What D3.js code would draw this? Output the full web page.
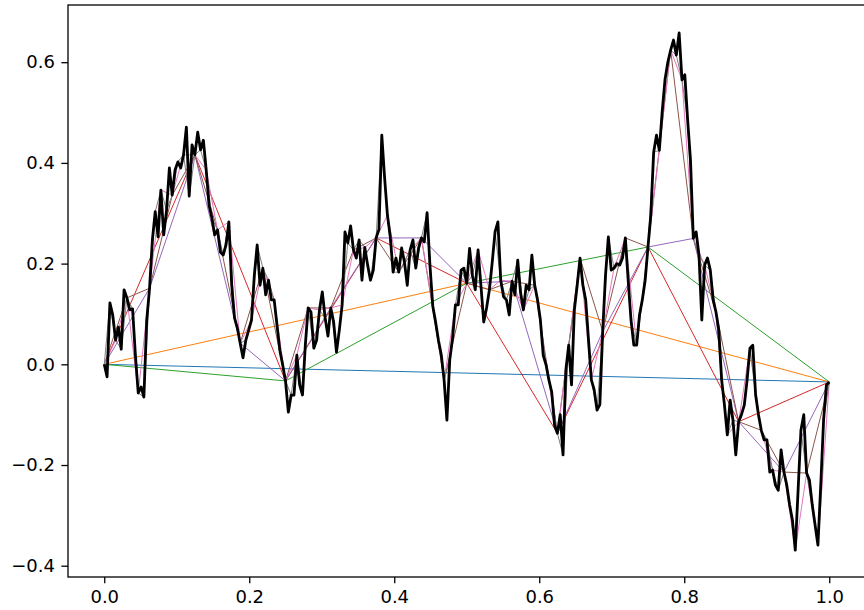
<!DOCTYPE html>
<html>
<head>
<meta charset="utf-8">
<script src="https://cdn.jsdelivr.net/npm/d3@7"></script>
<style>
  html, body { margin: 0; padding: 0; background: #fff; }
  svg { display: block; }
</style>
</head>
<body>
<svg id="chart" width="864" height="610"></svg>
<script>
// Path values sampled on a dyadic grid of 256 steps over [0, 1]
const pathValues = [
  0, -0.025, 0.122, 0.098, 0.048, 0.074, 0.03, 0.148, 0.132, 0.108,
  0.11, 0.018, -0.057, -0.045, -0.065, 0.088, 0.151, 0.247, 0.303, 0.253,
  0.346, 0.257, 0.306, 0.39, 0.336, 0.386, 0.402, 0.39, 0.416, 0.471,
  0.334, 0.436, 0.416, 0.461, 0.426, 0.445, 0.386, 0.316, 0.291, 0.257,
  0.267, 0.223, 0.217, 0.237, 0.283, 0.158, 0.092, 0.072, 0.042, 0.013,
  0.048, 0.068,
  0.088, 0.177, 0.237, 0.157, 0.191, 0.138, 0.167, 0.128, 0.128, 0.078, 0.028, -0.001, -0.033,
  -0.095, -0.061, -0.061, 0.018, -0.041, -0.061, 0.038, 0.112, 0.104, 0.032,
  0.048, 0.108, 0.144, 0.092, 0.056, 0.112, 0.084, 0.024, 0.068, 0.118,
  0.263, 0.241, 0.275, 0.227, 0.211, 0.247, 0.167, 0.232, 0.197, 0.167,
  0.187, 0.251, 0.268, 0.455, 0.37,
  0.296, 0.253, 0.183, 0.211, 0.183, 0.231, 0.203, 0.157, 0.227, 0.247,
  0.191, 0.231, 0.251, 0.243, 0.301, 0.197, 0.116, 0.084, 0.048, 0.019,
  -0.031, -0.111, 0.009, 0.052, 0.118, 0.118, 0.187, 0.191, 0.161,
  0.23, 0.177, 0.148, 0.227, 0.157, 0.084, 0.112, 0.148, 0.203, 0.263,
  0.283, 0.167, 0.134, 0.128, 0.098, 0.165, 0.138, 0.207, 0.142, 0.108,
  0.157, 0.148, 0.217, 0.157, 0.128, 0.088, 0.018, -0.001, -0.031, -0.055,
  -0.121, -0.137,
  -0.1, -0.18, -0.011, 0.038, -0.041, 0.108, 0.157, 0.211, 0.157, 0.128,
  0.048, -0.031, -0.051, -0.091, -0.08, 0.065, 0.177, 0.253, 0.187, 0.191,
  0.2, 0.197, 0.211, 0.251, 0.167, 0.088, 0.038, 0.038, 0.098, 0.128,
  0.167, 0.233,
  0.297, 0.421, 0.455, 0.425, 0.501, 0.565, 0.6, 0.624, 0.644, 0.614,
  0.658, 0.565, 0.575, 0.485, 0.406, 0.25, 0.263, 0.217, 0.088, 0.197,
  0.211, 0.187, 0.128, 0.104, 0.068, -0.031, -0.081, -0.14, -0.071, -0.111,
  -0.18, -0.114,
  -0.1, -0.081, -0.031, 0.032, 0.038, -0.061, -0.1, -0.131, -0.15, -0.15,
  -0.214, -0.21, -0.24, -0.25, -0.17, -0.214, -0.24, -0.279, -0.309, -0.369,
  -0.25, -0.131, -0.1, -0.216, -0.23, -0.279, -0.319, -0.359, -0.24, -0.111,
  -0.041, -0.035
];

// Refinement levels: level k keeps every (256 / 2^k)-th sample
const levelColors = ["#1f77b4", "#ff7f0e", "#2ca02c", "#d62728", "#9467bd",
                     "#8c564b", "#e377c2", "#7f7f7f", "#bcbd22"];

const xTicks = [0.0, 0.2, 0.4, 0.6, 0.8, 1.0];
const yTicks = [-0.4, -0.2, 0.0, 0.2, 0.4, 0.6];

const svg = d3.select("#chart");
const plot = { left: 68, top: 5, right: 865.5, bottom: 577 };

const N = pathValues.length - 1;
const points = pathValues.map((v, i) => ({ t: i / N, v }));

const x = d3.scaleLinear().domain([-0.05, 1.05]).range([plot.left, plot.right]);
const y = d3.scaleLinear().domain([-0.4224, 0.7136]).range([plot.bottom, plot.top]);

svg.append("clipPath").attr("id", "plotclip")
  .append("rect")
  .attr("x", plot.left).attr("y", plot.top)
  .attr("width", plot.right - plot.left).attr("height", plot.bottom - plot.top);

const line = d3.line().x(d => x(d.t)).y(d => y(d.v));
const g = svg.append("g").attr("clip-path", "url(#plotclip)");

levelColors.forEach((color, k) => {
  const step = N >> k;
  const pts = points.filter((d, i) => i % step === 0);
  g.append("path")
    .datum(pts)
    .attr("fill", "none")
    .attr("stroke", color)
    .attr("stroke-width", 1)
    .attr("stroke-linejoin", "round")
    .attr("d", line);
});

// Finest path drawn on top
g.append("path")
  .datum(points)
  .attr("fill", "none")
  .attr("stroke", "#000")
  .attr("stroke-width", 2.8)
  .attr("stroke-linejoin", "round")
  .attr("d", line);

// Axes
const fmt = d => d3.format(".1f")(d).replace("-", "\u2212");

const xAxis = d3.axisBottom(x).tickValues(xTicks).tickFormat(fmt)
  .tickSize(6.3).tickPadding(6.5);
const yAxis = d3.axisLeft(y).tickValues(yTicks).tickFormat(fmt)
  .tickSize(6.6).tickPadding(6.4);

const gx = svg.append("g").attr("transform", `translate(0,${plot.bottom})`).call(xAxis);
const gy = svg.append("g").attr("transform", `translate(${plot.left},0)`).call(yAxis);

[gx, gy].forEach(a => {
  a.select(".domain").remove();
  a.selectAll(".tick line").attr("stroke", "#000").attr("stroke-width", 1.3);
  a.selectAll(".tick text").attr("font-family", "DejaVu Sans, sans-serif")
    .attr("font-size", "18px").attr("fill", "#000");
});

// Frame
svg.append("rect")
  .attr("x", plot.left).attr("y", plot.top)
  .attr("width", plot.right - plot.left).attr("height", plot.bottom - plot.top)
  .attr("fill", "none").attr("stroke", "#000").attr("stroke-width", 1.3);
</script>
</body>
</html>
